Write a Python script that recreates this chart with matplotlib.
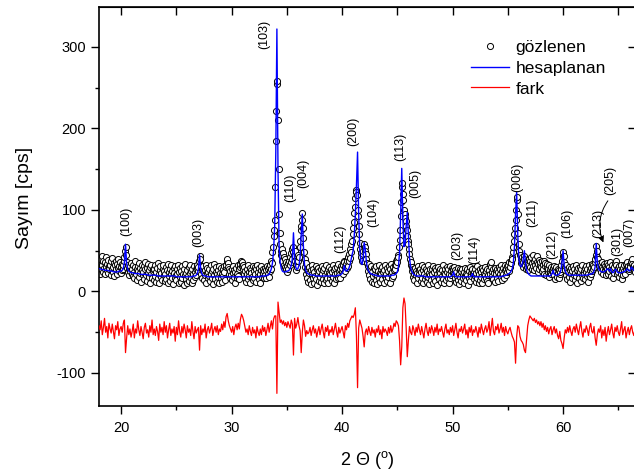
import matplotlib
matplotlib.use("Agg")
import matplotlib.pyplot as plt
import numpy as np
from matplotlib.ticker import MultipleLocator, NullFormatter

plt.rcParams['font.family'] = ['Liberation Sans', 'DejaVu Sans']
plt.rcParams['mathtext.fontset'] = 'custom'
plt.rcParams['mathtext.rm'] = 'Liberation Sans'
plt.rcParams['axes.unicode_minus'] = False


# Step 1: values, one row per degree

start_2theta = 18.0
step_obs = 0.05    # observed points
step_calc = 0.1    # calculated profile and difference curve

# observed counts (cps), 20 points per degree
gozlenen = [
    35, 22, 40, 31, 27, 44, 33, 24, 38, 29, 21, 36, 30, 42, 26, 34, 23, 39, 31, 28,   # 18
    33, 20, 37, 28, 41, 24, 30, 35, 19, 32, 27, 38, 22, 34, 29, 40, 25, 31, 36, 23,   # 19
    30, 26, 34, 28, 33, 38, 42, 50, 55, 45, 36, 29, 24, 33, 27, 20, 31, 25, 35, 22,   # 20
    28, 19, 33, 24, 16, 30, 37, 22, 27, 14, 31, 25, 35, 18, 29, 23, 12, 32, 26, 20,   # 21
    24, 31, 15, 27, 36, 20, 13, 29, 23, 34, 18, 26, 11, 30, 22, 33, 17, 25, 28, 14,   # 22
    27, 19, 32, 12, 24, 29, 16, 35, 21, 10, 26, 31, 18, 23, 14, 28, 33, 20, 25, 13,   # 23
    22, 30, 15, 26, 11, 34, 19, 24, 28, 13, 21, 32, 17, 25, 9, 29, 23, 16, 31, 20,    # 24
    14, 27, 21, 33, 10, 24, 18, 29, 12, 25, 31, 16, 22, 8, 28, 20, 34, 15, 23, 11,    # 25
    26, 19, 30, 13, 23, 32, 17, 25, 10, 28, 21, 14, 31, 24, 18, 27, 20, 29, 33, 25,   # 26
    30, 38, 44, 40, 31, 22, 28, 17, 25, 31, 14, 26, 20, 33, 11, 23, 29, 16, 24, 19,   # 27
    28, 13, 22, 32, 17, 25, 9, 27, 20, 34, 15, 24, 30, 12, 21, 26, 18, 31, 10, 23,    # 28
    16, 29, 22, 12, 27, 19, 31, 24, 14, 30, 33, 38, 40, 35, 30, 22, 27, 17, 25, 20,   # 29
    28, 14, 23, 31, 18, 26, 11, 24, 29, 16, 22, 33, 19, 27, 15, 30, 34, 38, 36, 31,   # 30
    33, 27, 22, 30, 17, 25, 12, 28, 21, 32, 15, 24, 19, 29, 10, 26, 23, 18, 31, 14,   # 31
    25, 17, 30, 21, 12, 27, 33, 19, 24, 15, 29, 22, 11, 26, 31, 18, 23, 28, 16, 25,   # 32
    20, 29, 16, 26, 31, 22, 27, 18, 30, 25, 33, 28, 38, 35, 48, 55, 68, 76, 88, 128,  # 33
    185, 222, 255, 258, 210, 150, 95, 72, 58, 50, 45, 52, 38, 47, 33, 42, 30, 40, 27, 36,  # 34
    31, 24, 35, 28, 38, 32, 42, 36, 47, 40, 52, 48, 55, 45, 50, 38, 33, 26, 36, 30,  # 35
    38, 45, 42, 55, 62, 75, 80, 88, 96, 78, 65, 48, 40, 30, 35, 22, 28, 17, 25, 12,  # 36
    23, 30, 14, 26, 9, 21, 33, 17, 28, 11, 24, 19, 31, 15, 27, 8, 22, 29, 13, 25,     # 37
    18, 27, 12, 31, 22, 15, 26, 10, 29, 20, 33, 14, 24, 17, 28, 11, 23, 30, 16, 21,   # 38
    27, 13, 24, 32, 18, 26, 11, 29, 21, 15, 30, 23, 17, 34, 25, 20, 28, 16, 31, 24,   # 39
    29, 22, 33, 38, 36, 30, 25, 34, 29, 37, 31, 42, 38, 46, 41, 52, 48, 58, 62, 70,   # 40
    78, 85, 96, 104, 115, 124, 122, 118, 100, 92, 80, 70, 60, 52, 47, 42, 38, 46, 50, 56,  # 41
    58, 55, 50, 46, 40, 35, 31, 25, 34, 20, 28, 15, 26, 31, 12, 24, 19, 29, 10, 22,   # 42
    27, 14, 31, 20, 9, 25, 33, 17, 23, 12, 28, 21, 15, 30, 24, 10, 26, 19, 32, 16,    # 43
    22, 29, 13, 25, 18, 31, 11, 27, 21, 34, 16, 24, 30, 19, 26, 33, 28, 37, 32, 40,   # 44
    36, 45, 42, 55, 63, 75, 92, 110, 128, 133, 120, 112, 100, 95, 90, 86, 80, 75, 68, 62,  # 45
    58, 52, 46, 40, 32, 36, 25, 30, 18, 27, 22, 14, 29, 20, 25, 11, 23, 31, 16, 26,   # 46
    21, 28, 13, 24, 32, 17, 26, 10, 22, 30, 15, 27, 19, 12, 25, 33, 18, 23, 9, 28,    # 47
    20, 14, 27, 22, 31, 11, 24, 17, 29, 13, 26, 21, 8, 30, 18, 25, 15, 28, 23, 12,    # 48
    26, 19, 32, 15, 23, 10, 28, 21, 14, 30, 24, 17, 27, 11, 22, 31, 16, 25, 20, 29,   # 49
    23, 27, 30, 21, 16, 26, 12, 24, 19, 29, 14, 22, 9, 27, 18, 25, 13, 28, 20, 16,    # 50
    24, 11, 29, 18, 22, 14, 27, 20, 8, 25, 17, 30, 13, 23, 19, 26, 28, 21, 15, 24,    # 51
    19, 27, 12, 23, 31, 16, 25, 10, 21, 28, 14, 24, 18, 29, 11, 26, 22, 15, 30, 20,   # 52
    17, 25, 13, 28, 20, 11, 26, 22, 34, 30, 36, 24, 19, 27, 15, 23, 29, 12, 25, 21,   # 53
    28, 16, 24, 13, 30, 21, 27, 18, 32, 14, 25, 22, 29, 17, 26, 33, 20, 28, 24, 31,   # 54
    27, 33, 25, 36, 30, 38, 35, 42, 40, 48, 55, 62, 70, 78, 88, 100, 112, 116, 95, 72,  # 55
    58, 50, 45, 40, 35, 42, 38, 30, 36, 44, 40, 33, 28, 36, 30, 38, 26, 34, 40, 32,   # 56
    37, 30, 42, 28, 35, 45, 31, 38, 26, 40, 33, 29, 43, 36, 24, 34, 39, 27, 32, 36,   # 57
    30, 37, 25, 33, 28, 38, 22, 31, 35, 20, 29, 34, 24, 27, 18, 32, 26, 23, 30, 21,   # 58
    25, 29, 24, 31, 20, 27, 15, 25, 30, 18, 23, 28, 16, 26, 21, 24, 28, 32, 38, 44,   # 59
    48, 44, 36, 30, 26, 33, 20, 28, 15, 24, 30, 18, 26, 12, 22, 29, 17, 25, 31, 20,   # 60
    27, 14, 23, 32, 19, 26, 11, 29, 22, 16, 30, 24, 13, 28, 20, 33, 17, 25, 21, 29,   # 61
    15, 24, 31, 19, 27, 12, 22, 33, 18, 26, 29, 21, 34, 25, 28, 32, 30, 36, 40, 45,   # 62
    56, 50, 42, 36, 40, 31, 35, 27, 33, 24, 30, 36, 22, 28, 34, 26, 31, 20, 29, 35,   # 63
    27, 33, 22, 30, 25, 36, 28, 19, 26, 32, 17, 27, 23, 30, 35, 38, 33, 26, 21, 29,   # 64
    24, 31, 18, 27, 21, 33, 15, 26, 29, 20, 25, 32, 22, 28, 34, 30, 36, 27, 31, 25,   # 65
    28, 33, 30, 36, 40, 34, 31, 27, 33, 26, 29, 24, 30,                               # 66
]

# calculated profile (cps), 10 points per degree
hesaplanan = [
    28, 28, 27, 27, 27, 26, 26, 26, 26, 25,   # 18
    25, 25, 25, 24, 24, 24, 24, 24, 25, 25,   # 19
    25, 26, 28, 36, 58, 34, 27, 25, 24, 23,   # 20
    23, 23, 22, 22, 22, 22, 22, 21, 21, 21,   # 21
    21, 21, 21, 21, 20, 20, 20, 20, 20, 20,   # 22
    20, 20, 20, 19, 19, 19, 19, 19, 19, 19,   # 23
    19, 19, 19, 19, 19, 19, 19, 19, 19, 19,   # 24
    18, 18, 18, 18, 18, 18, 18, 18, 18, 18,   # 25
    18, 18, 18, 18, 18, 19, 19, 19, 20, 22,   # 26
    27, 45, 28, 22, 20, 19, 19, 19, 18, 18,   # 27
    18, 18, 18, 18, 18, 18, 18, 18, 18, 18,   # 28
    18, 18, 18, 18, 18, 18, 18, 18, 18, 18,   # 29
    18, 18, 18, 18, 18, 18, 18, 18, 18, 18,   # 30
    18, 18, 18, 18, 18, 18, 18, 18, 18, 18,   # 31
    18, 18, 18, 18, 18, 18, 18, 19, 19, 19,   # 32
    19, 19, 20, 20, 21, 24, 28, 35, 50, 80,   # 33
    170, 322, 150, 55, 35, 28, 25, 24, 24, 24,  # 34
    25, 25, 26, 28, 32, 40, 72, 42, 30, 27,   # 35
    28, 32, 42, 70, 95, 55, 33, 26, 23, 22,   # 36
    21, 21, 20, 20, 20, 20, 19, 19, 19, 19,   # 37
    19, 19, 19, 19, 19, 19, 19, 19, 19, 19,   # 38
    19, 19, 19, 19, 19, 19, 20, 20, 20, 21,   # 39
    22, 25, 32, 26, 25, 26, 28, 32, 38, 45,   # 40
    50, 68, 95, 130, 171, 95, 52, 36, 33, 40,  # 41
    60, 52, 36, 28, 25, 23, 22, 21, 21, 20,   # 42
    20, 20, 19, 19, 19, 19, 19, 19, 19, 19,   # 43
    19, 19, 19, 19, 19, 20, 20, 20, 21, 22,   # 44
    24, 30, 48, 95, 151, 90, 55, 58, 80, 97,  # 45
    70, 42, 30, 25, 22, 21, 20, 19, 19, 19,   # 46
    19, 19, 19, 19, 19, 18, 18, 18, 18, 18,   # 47
    18, 18, 18, 18, 18, 18, 18, 18, 18, 18,   # 48
    18, 18, 18, 18, 18, 18, 18, 18, 18, 19,   # 49
    20, 24, 19, 18, 18, 18, 18, 18, 18, 18,   # 50
    18, 18, 18, 18, 18, 18, 18, 19, 22, 18,   # 51
    18, 18, 18, 18, 18, 18, 18, 18, 18, 18,   # 52
    18, 18, 18, 18, 18, 18, 18, 18, 18, 18,   # 53
    18, 18, 18, 18, 18, 19, 19, 19, 20, 20,   # 54
    21, 22, 23, 25, 28, 35, 55, 95, 122, 70,  # 55
    40, 32, 30, 33, 40, 50, 35, 26, 23, 21,   # 56
    20, 19, 19, 19, 19, 19, 19, 19, 19, 19,   # 57
    19, 19, 19, 19, 19, 19, 19, 19, 19, 20,   # 58
    22, 26, 21, 20, 20, 20, 21, 22, 26, 35,   # 59
    50, 32, 25, 22, 21, 20, 20, 20, 20, 20,   # 60
    20, 20, 20, 20, 20, 20, 20, 20, 20, 20,   # 61
    20, 20, 20, 21, 21, 21, 22, 22, 25, 30,   # 62
    59, 36, 28, 26, 25, 24, 24, 24, 25, 26,   # 63
    28, 27, 25, 28, 24, 23, 24, 27, 27, 24,   # 64
    23, 23, 23, 23, 24, 24, 25, 26, 28, 26,   # 65
    25, 27, 30, 28, 26, 25, 25,               # 66
]

# difference curve as plotted (already shifted down), 10 points per degree
fark = [
    -42, -47, -36, -53, -44, -33, -50, -43, -57, -39,   # 18
    -46, -51, -40, -49, -58, -42, -47, -37, -54, -46,   # 19
    -43, -50, -39, -35, -75, -57, -42, -53, -46, -56,   # 20
    -49, -40, -57, -46, -51, -36, -47, -54, -43, -50,   # 21
    -58, -44, -39, -51, -47, -56, -42, -50, -35, -53,   # 22
    -46, -54, -43, -49, -60, -40, -50, -44, -53, -37,   # 23
    -50, -42, -57, -47, -39, -54, -46, -51, -43, -61,   # 24
    -44, -53, -36, -49, -56, -43, -51, -40, -47, -57,   # 25
    -42, -50, -46, -54, -37, -49, -58, -43, -51, -47,   # 26
    -44, -72, -42, -53, -46, -50, -40, -57, -47, -43,   # 27
    -51, -46, -39, -54, -47, -43, -50, -42, -53, -46,   # 28
    -49, -40, -47, -37, -44, -31, -27, -36, -42, -46,   # 29
    -50, -43, -53, -44, -40, -47, -39, -46, -34, -28,   # 30
    -31, -36, -43, -50, -46, -53, -42, -49, -54, -44,   # 31
    -51, -47, -57, -43, -50, -54, -46, -53, -42, -49,   # 32
    -44, -54, -47, -39, -50, -43, -36, -46, -34, -30,   # 33
    -30, -125, -13, -25, -38, -35, -40, -36, -42, -38,  # 34
    -44, -37, -41, -45, -35, -40, -78, -33, -45, -40,   # 35
    -32, -42, -48, -75, -50, -35, -42, -55, -48, -52,   # 36
    -50, -44, -54, -47, -42, -51, -46, -56, -49, -43,   # 37
    -53, -46, -40, -50, -57, -44, -49, -42, -54, -47,   # 38
    -50, -43, -53, -46, -39, -49, -56, -44, -51, -47,   # 39
    -43, -50, -57, -42, -47, -39, -44, -36, -33, -30,   # 40
    -32, -28, -20, -55, -118, -45, -35, -40, -45, -55,  # 41
    -68, -50, -46, -53, -43, -49, -54, -44, -51, -47,   # 42
    -56, -46, -50, -42, -53, -47, -58, -43, -50, -46,   # 43
    -49, -54, -44, -51, -42, -50, -46, -39, -43, -36,   # 44
    -38, -42, -60, -90, -68, -20, -8, -15, -45, -80,    # 45
    -60, -43, -50, -53, -42, -47, -54, -44, -50, -40,   # 46
    -47, -53, -43, -50, -57, -46, -39, -49, -54, -44,   # 47
    -51, -42, -47, -54, -44, -50, -40, -53, -46, -49,   # 48
    -43, -50, -56, -46, -40, -51, -47, -53, -44, -50,   # 49
    -42, -54, -47, -39, -50, -57, -46, -49, -43, -51,   # 50
    -46, -40, -53, -47, -57, -44, -50, -42, -54, -47,   # 51
    -50, -43, -49, -56, -44, -51, -40, -47, -53, -46,   # 52
    -42, -50, -46, -37, -54, -44, -33, -49, -53, -43,   # 53
    -47, -40, -51, -46, -39, -50, -44, -54, -43, -49,   # 54
    -52, -47, -44, -50, -55, -58, -62, -88, -55, -42,   # 55
    -44, -55, -60, -62, -65, -72, -75, -58, -42, -35,   # 56
    -30, -32, -34, -36, -33, -38, -35, -40, -37, -42,   # 57
    -37, -44, -39, -47, -42, -49, -44, -52, -46, -43,   # 58
    -53, -47, -43, -51, -46, -54, -58, -49, -60, -64,   # 59
    -70, -57, -47, -51, -44, -50, -42, -49, -54, -46,   # 60
    -43, -50, -40, -47, -53, -44, -37, -49, -56, -46,   # 61
    -50, -42, -47, -54, -44, -39, -49, -51, -43, -57,   # 62
    -66, -53, -46, -50, -42, -57, -47, -54, -44, -61,   # 63
    -50, -43, -53, -47, -40, -51, -57, -44, -49, -42,   # 64
    -50, -54, -46, -37, -53, -47, -43, -57, -49, -44,   # 65
    -53, -46, -42, -50, -54, -47, -51,                  # 66
]

# reflection labels and where they sit (2theta, cps)
hkl_labels = ["(100)", "(003)", "(103)", "(110)", "(004)", "(112)", "(200)",
              "(104)", "(113)", "(005)", "(203)", "(114)", "(006)", "(211)",
              "(212)", "(106)", "(213)", "(205)", "(301)", "(007)"]
hkl_x = [20.5, 27.0, 33.0, 35.3, 36.45, 39.8, 41.0, 42.8, 45.25, 46.65,
         50.4, 51.95, 55.85, 57.2, 59.0, 60.4, 63.2, 64.3, 64.9, 66.0]
hkl_y = [86, 73, 315, 127, 145, 65, 196, 97, 177, 132,
         56, 51, 140, 96, 58, 83, 84, 136, 61, 72]


# Step 2: 2-theta grids

x_obs = start_2theta + step_obs * np.arange(len(gozlenen))
x_calc = start_2theta + step_calc * np.arange(len(hesaplanan))


# Step 3: plot

fig = plt.figure(figsize=(6.34, 4.76), dpi=100)
ax = fig.add_axes([99 / 634, 1 - 406 / 476, (636 - 99) / 634, (406 - 7) / 476])

ax.plot(x_obs, gozlenen, linestyle="none", marker="o", markersize=4.4,
        markerfacecolor="white", markeredgecolor="black", markeredgewidth=0.7,
        label="gözlenen", zorder=2)
ax.plot(x_calc, hesaplanan, color="#0000ff", linewidth=1.0,
        label="hesaplanan", zorder=3)
ax.plot(x_calc, fark, color="#ff0000", linewidth=0.9, label="fark", zorder=3)

for lab, hx, hy in zip(hkl_labels, hkl_x, hkl_y):
    ax.text(hx, hy, lab, rotation=90, ha="center", va="center", fontsize=9, zorder=4)

ax.annotate("", xy=(63.75, 57), xytext=(64.2, 114),
            arrowprops=dict(arrowstyle="-|>", connectionstyle="arc3,rad=0.3",
                            color="black", lw=0.7, mutation_scale=8), zorder=4)

ax.set_xlim(18.0, 66.6)
ax.set_ylim(-140.5, 349)

ax.xaxis.set_major_locator(MultipleLocator(10))
ax.xaxis.set_minor_locator(MultipleLocator(5))
ax.yaxis.set_major_locator(MultipleLocator(100))
ax.yaxis.set_minor_locator(MultipleLocator(50))
ax.tick_params(which="major", direction="out", length=5.8, width=1.0, labelsize=10.5)
ax.tick_params(which="minor", direction="out", length=3.0, width=1.0)
ax.tick_params(axis="x", which="major", pad=5)

for side in ["left", "bottom", "top", "right"]:
    ax.spines[side].set_linewidth(1.2)

# inward ticks on the top and right frame
secx = ax.secondary_xaxis("top")
secx.xaxis.set_major_locator(MultipleLocator(5))
secx.xaxis.set_major_formatter(NullFormatter())
secx.tick_params(direction="in", length=5.8, width=1.0)
secy = ax.secondary_yaxis("right")
secy.yaxis.set_major_locator(MultipleLocator(100))
secy.yaxis.set_major_formatter(NullFormatter())
secy.tick_params(direction="in", length=5.8, width=1.0)

ax.set_xlabel("2 Θ ($^{\\mathrm{o}}$)", fontsize=13, labelpad=10)
ax.set_ylabel("Sayım [cps]", fontsize=14)
ax.yaxis.set_label_coords(-0.123, 0.521)

ax.legend(loc="upper left", bbox_to_anchor=(471 / 634, 1 - 40 / 476),
          bbox_transform=fig.transFigure, frameon=False, fontsize=12.5,
          numpoints=1, handlelength=2.2, handletextpad=0.35,
          labelspacing=0.32, borderpad=0, borderaxespad=0)

fig.savefig("out.png", dpi=100)
